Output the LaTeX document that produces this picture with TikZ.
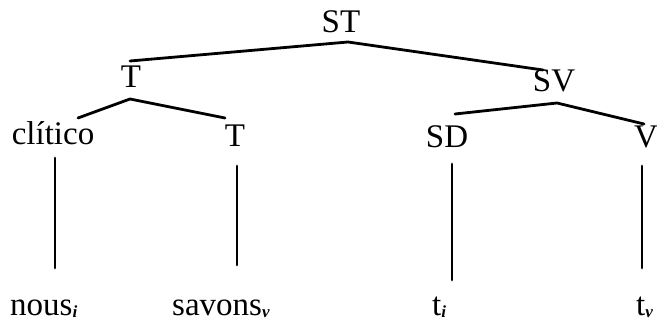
\documentclass[tikz,border=0pt]{standalone}
\usepackage{fontspec}
\setmainfont{Liberation Serif}
\begin{document}
\begin{tikzpicture}[x=1pt,y=-1pt,
  lab/.style={inner sep=0pt,anchor=base,font=\fontsize{33}{38}\selectfont},
  word/.style={inner sep=0pt,anchor=base west,font=\fontsize{33}{38}\selectfont},
  edge/.style={line width=2.8pt,line cap=round,line join=round}]
\useasboundingbox (0,0) rectangle (657,326);
\newcommand{\idx}[1]{\raisebox{-1.5pt}{\fontsize{17}{17}\selectfont\bfseries\itshape #1}}

% category labels
\node[lab] (ST)  at (341,33)  {ST};
\node[lab] (T1)  at (131,88)  {T};
\node[lab] (SV)  at (554,92)  {SV};
\node[lab] (cl)  at (53,145)  {clítico};
\node[lab] (T2)  at (235,147) {T};
\node[lab] (SD)  at (447,148) {SD};
\node[lab] (V)   at (646,148) {V};

% terminal words
\node[word] (nous)   at (10,316)  {nous\idx{i}};
\node[word] (savons) at (172,316) {savons\idx{v}};
\node[word] (ti)     at (432,316) {t\idx{i}};
\node[word] (tv)     at (636,316) {t\idx{v}};

% branch points and line ends
\coordinate (ST-foot) at ([shift={(7,9)}]ST.base);
\coordinate (T1-top)  at ([shift={(-1,-27)}]T1.base);
\coordinate (SV-top)  at ([shift={(-11,-22)}]SV.base);
\coordinate (T1-foot) at ([shift={(-1,11)}]T1.base);
\coordinate (cl-top)  at ([shift={(25,-27)}]cl.base);
\coordinate (T2-top)  at ([shift={(-10,-29)}]T2.base);
\coordinate (SV-foot) at ([shift={(3,11)}]SV.base);
\coordinate (SD-top)  at ([shift={(8,-34)}]SD.base);
\coordinate (V-top)   at ([shift={(-2,-24)}]V.base);

\coordinate (cl-foot)  at ([shift={(2,13)}]cl.base);
\coordinate (nous-top) at ([shift={(45,-48)}]nous.base west);
\coordinate (T2-foot)  at ([shift={(2,19)}]T2.base);
\coordinate (sav-top)  at ([shift={(65,-51)}]savons.base west);
\coordinate (SD-foot)  at ([shift={(5,16)}]SD.base);
\coordinate (ti-top)   at ([shift={(20,-36)}]ti.base west);
\coordinate (V-foot)   at ([shift={(-4,18)}]V.base);
\coordinate (tv-top)   at ([shift={(6,-48)}]tv.base west);

% tree edges
\draw[edge] (T1-top) -- (ST-foot) -- (SV-top);
\draw[edge] (cl-top) -- (T1-foot) -- (T2-top);
\draw[edge] (SD-top) -- (SV-foot) -- (V-top);
\draw[edge] (cl-foot) -- (nous-top);
\draw[edge] (T2-foot) -- (sav-top);
\draw[edge] (SD-foot) -- (ti-top);
\draw[edge] (V-foot) -- (tv-top);
\end{tikzpicture}
\end{document}
